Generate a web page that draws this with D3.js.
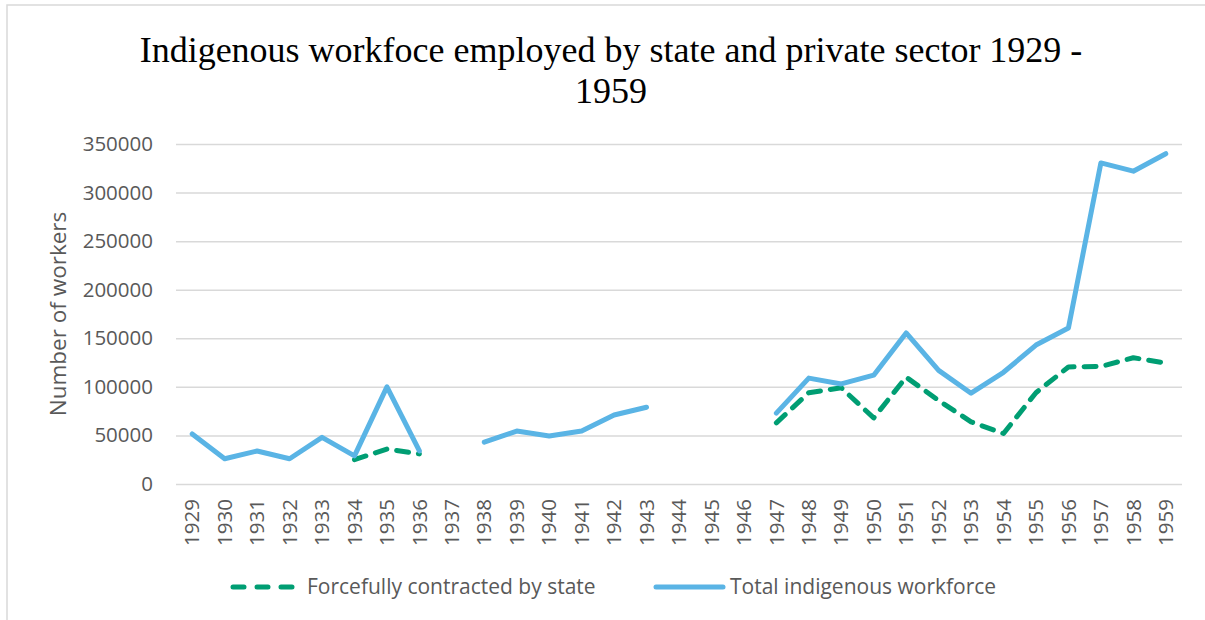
<!DOCTYPE html>
<html>
<head>
<meta charset="utf-8">
<script src="https://cdn.jsdelivr.net/npm/d3@7"></script>
<style>
  body { margin: 0; background: #fff; }
  svg { display: block; }
</style>
</head>
<body>
<script>
const years = ['1929','1930','1931','1932','1933','1934','1935','1936','1937','1938',
  '1939','1940','1941','1942','1943','1944','1945','1946','1947','1948','1949','1950',
  '1951','1952','1953','1954','1955','1956','1957','1958','1959'];

// null = no data for that year
const forced = [null, null, null, null, null, 25000, 36000, 31000, null, null,
  null, null, null, null, null, null, null, null, 63000, 94000, 99000, 68000,
  110000, 86000, 64000, 52000, 94000, 120500, 121000, 130000, 124500];

const total = [51500, 26000, 34000, 26000, 48000, 29000, 100000, 34000, null, 43000,
  54500, 49500, 54500, 71000, 79000, null, null, null, 73000, 109000, 103000, 112000,
  155500, 117000, 93500, 115000, 143000, 160500, 330500, 322000, 340000];

const yTicks = [0, 50000, 100000, 150000, 200000, 250000, 300000, 350000];
const titleLines = ['Indigenous workfoce employed by state and private sector 1929 -', '1959'];
const seriesNames = ['Forcefully contracted by state', 'Total indigenous workforce'];

const box = {
  width: 1205, height: 620,
  left: 176, right: 1182, top: 144, bottom: 484
};

const svg = d3.select('body').append('svg')
  .attr('width', box.width)
  .attr('height', box.height);

// chart frame
svg.append('rect')
  .attr('x', 7).attr('y', 5)
  .attr('width', 1300).attr('height', 700)
  .attr('fill', '#fff')
  .attr('stroke', '#d9d9d9')
  .attr('stroke-width', 1.5);

const x = d3.scaleBand().domain(years).range([box.left, box.right]);
const y = d3.scaleLinear().domain([0, 350000]).range([box.bottom, box.top]);

// title
svg.append('text')
  .attr('x', 611).attr('y', 62)
  .attr('text-anchor', 'middle')
  .style('font-family', '"Liberation Serif", serif')
  .style('font-size', '36px')
  .style('fill', '#000')
  .selectAll('tspan')
  .data(titleLines)
  .join('tspan')
  .attr('x', 611)
  .attr('dy', (d, i) => i ? 41 : 0)
  .text(d => d);

// grid
const yAxis = d3.axisLeft(y).tickValues(yTicks).tickSize(-(box.right - box.left)).tickFormat(d3.format('d'));
svg.append('g')
  .attr('transform', `translate(${box.left},0)`)
  .call(yAxis)
  .call(g => g.select('.domain').remove())
  .call(g => g.selectAll('.tick line').attr('stroke', '#d9d9d9').attr('stroke-width', 1.5))
  .call(g => g.selectAll('.tick text')
    .attr('x', -23)
    .style('font-family', '"Open Sans", sans-serif')
    .style('font-size', '20.5px')
    .style('fill', '#595959'));

// x axis labels
const xAxis = d3.axisBottom(x).tickSize(0);
svg.append('g')
  .attr('transform', `translate(0,${box.bottom})`)
  .call(xAxis)
  .call(g => g.select('.domain').remove())
  .call(g => g.selectAll('.tick text')
    .attr('transform', 'rotate(-90)')
    .attr('x', -15).attr('y', 0).attr('dy', '0.35em')
    .attr('text-anchor', 'end')
    .style('font-family', '"Open Sans", sans-serif')
    .style('font-size', '20.5px')
    .style('fill', '#595959'));

// y axis title
svg.append('text')
  .attr('transform', `translate(66,${(box.top + box.bottom) / 2}) rotate(-90)`)
  .attr('text-anchor', 'middle')
  .style('font-family', '"Open Sans", sans-serif')
  .style('font-size', '22.5px')
  .style('fill', '#595959')
  .text('Number of workers');

const line = d3.line()
  .defined(d => d[1] !== null)
  .x(d => x(d[0]) + x.bandwidth() / 2)
  .y(d => y(d[1]));

svg.append('path')
  .datum(years.map((yr, i) => [yr, forced[i]]))
  .attr('d', line)
  .attr('fill', 'none')
  .attr('stroke', '#009e73')
  .attr('stroke-width', 5)
  .attr('stroke-linecap', 'round')
  .attr('stroke-linejoin', 'round')
  .attr('stroke-dasharray', '12,10');

svg.append('path')
  .datum(years.map((yr, i) => [yr, total[i]]))
  .attr('d', line)
  .attr('fill', 'none')
  .attr('stroke', '#5ab4e5')
  .attr('stroke-width', 5)
  .attr('stroke-linecap', 'round')
  .attr('stroke-linejoin', 'round');

// legend
const legend = svg.append('g').attr('transform', 'translate(0,587)');
legend.append('line')
  .attr('x1', 233).attr('x2', 293)
  .attr('stroke', '#009e73').attr('stroke-width', 5)
  .attr('stroke-linecap', 'round').attr('stroke-dasharray', '11,13');
legend.append('line')
  .attr('x1', 656).attr('x2', 723)
  .attr('stroke', '#5ab4e5').attr('stroke-width', 5)
  .attr('stroke-linecap', 'round');
legend.selectAll('text.lbl')
  .data(seriesNames)
  .join('text')
  .attr('class', 'lbl')
  .attr('x', (d, i) => i ? 730 : 307)
  .attr('dy', '0.35em')
  .style('font-family', '"Open Sans", sans-serif')
  .style('font-size', '21px')
  .style('fill', '#595959')
  .text(d => d);
</script>
</body>
</html>
